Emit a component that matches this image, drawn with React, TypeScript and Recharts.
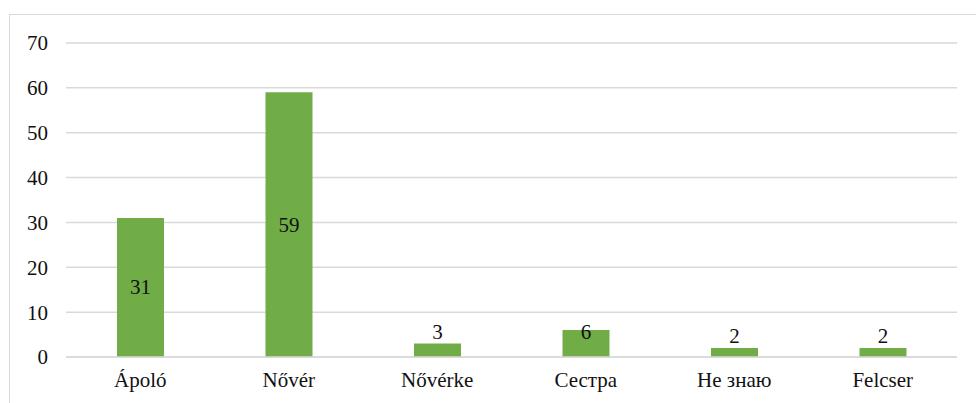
import { BarChart, Bar, XAxis, YAxis, CartesianGrid, LabelList } from 'recharts';

const categories = ['Ápoló', 'Nővér', 'Nővérke', 'Сестра', 'Не знаю', 'Felcser'];
const counts = [31, 59, 3, 6, 2, 2];
const yTicks = [0, 10, 20, 30, 40, 50, 60, 70];

const data = categories.map((name, i) => ({ name, value: counts[i] }));

const FONT = "'Liberation Serif', 'DejaVu Serif', 'Noto Serif', serif";

// tall bars get the number in the middle, mid bars just inside the top, tiny ones above
function BarLabel(props: any) {
  const { x, y, width, height, value } = props;
  const cx = x + width / 2;
  let ty = y - 5;
  if (height > 100) ty = y + height / 2 + 7;
  else if (height > 20) ty = y + 9;
  return (
    <text x={cx} y={ty} textAnchor="middle" style={{ fontFamily: FONT, fontSize: 21 }} fill="#111">
      {value}
    </text>
  );
}

export default function App() {
  return (
    <div style={{ position: 'absolute', left: 0, top: 0, width: 976, height: 403, overflow: 'hidden', background: '#fff', fontFamily: FONT }}>
      <div
        style={{
          position: 'absolute',
          left: 9,
          top: 14,
          width: 1000,
          height: 420,
          borderLeft: '1.5px solid #d9d9d9',
          borderTop: '1.5px solid #d9d9d9',
        }}
      />
      <div style={{ position: 'absolute', left: 0, top: 0 }}>
        <BarChart width={976} height={403} data={data} margin={{ top: 43, right: 19, bottom: 0, left: 0 }} style={{ fontFamily: FONT }}>
          <CartesianGrid vertical={false} stroke="#d9d9d9" strokeWidth={1.5} />
          <XAxis
            dataKey="name"
            height={46}
            tickLine={false}
            tickSize={0}
            tickMargin={15}
            axisLine={{ stroke: '#d9d9d9', strokeWidth: 1.5 }}
            tick={{ fontSize: 21, fill: '#111', style: { fontFamily: FONT } }}
          />
          <YAxis
            width={66}
            domain={[0, 70]}
            ticks={yTicks}
            interval={0}
            axisLine={false}
            tickLine={false}
            tickSize={0}
            tickMargin={18}
            tick={{ fontSize: 21, fill: '#111', style: { fontFamily: FONT } }}
          />
          <Bar dataKey="value" fill="#70AD47" barSize={47} isAnimationActive={false}>
            <LabelList dataKey="value" content={BarLabel} />
          </Bar>
        </BarChart>
      </div>
    </div>
  );
}
